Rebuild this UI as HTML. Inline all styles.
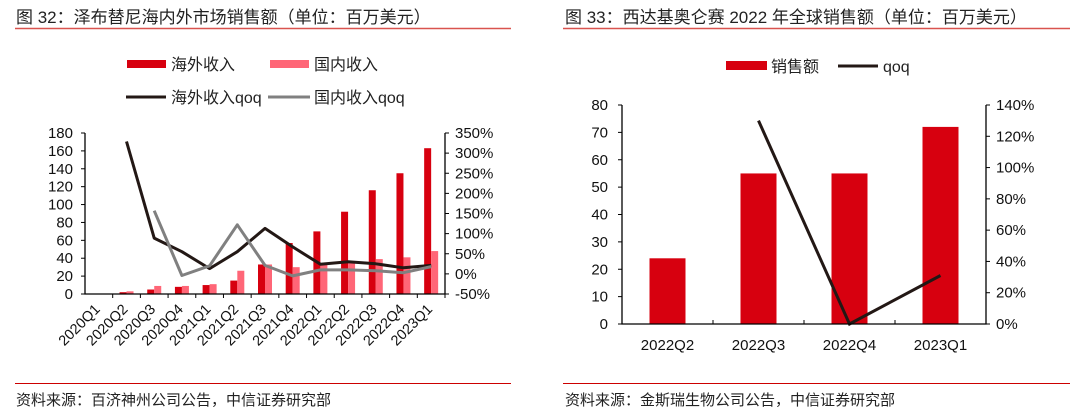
<!DOCTYPE html>
<html><head><meta charset="utf-8">
<style>
body{margin:0;background:#fff;width:1080px;height:418px;overflow:hidden}
svg{display:block;font-family:"Liberation Sans","Noto Sans CJK SC",sans-serif}
</style></head><body>
<svg id="s" width="1080" height="418" xmlns="http://www.w3.org/2000/svg">
<text x="16" y="23" font-size="17" fill="#222">图 32：泽布替尼海内外市场销售额（单位：百万美元）</text>
<line x1="15" y1="28.5" x2="511" y2="28.5" stroke="#d9534f" stroke-width="1.5"/>
<text x="565" y="23" font-size="17" fill="#222">图 33：西达基奥仑赛 2022 年全球销售额（单位：百万美元）</text>
<line x1="563" y1="28.5" x2="1070" y2="28.5" stroke="#d9534f" stroke-width="1.5"/>
<line x1="15" y1="383.5" x2="511" y2="383.5" stroke="#c00" stroke-width="1"/>
<text x="16" y="405" font-size="15" fill="#222">资料来源：百济神州公司公告，中信证券研究部</text>
<line x1="563" y1="383.5" x2="1070" y2="383.5" stroke="#c00" stroke-width="1"/>
<text x="565" y="405" font-size="15" fill="#222">资料来源：金斯瑞生物公司公告，中信证券研究部</text>
<g>
<rect x="127" y="60" width="39" height="8" fill="#d7000f"/>
<text x="171" y="70" font-size="16" fill="#222">海外收入</text>
<rect x="270" y="60" width="39" height="8" fill="#ff6677"/>
<text x="314" y="70" font-size="16" fill="#222">国内收入</text>
<line x1="126" y1="97" x2="166" y2="97" stroke="#231815" stroke-width="3"/>
<text x="171" y="103" font-size="16" fill="#222">海外收入qoq</text>
<line x1="268" y1="97" x2="310" y2="97" stroke="#808080" stroke-width="3"/>
<text x="314" y="103" font-size="16" fill="#222">国内收入qoq</text>
</g>
<g>
<rect x="726" y="61" width="41" height="9" fill="#d7000f"/>
<text x="771" y="72" font-size="16" fill="#222">销售额</text>
<line x1="838" y1="66" x2="878" y2="66" stroke="#231815" stroke-width="3"/>
<text x="883" y="72" font-size="16" fill="#222">qoq</text>
</g>
<g id="L"></g>
<g id="R"></g>
</svg>
<script>
const leftCats=["2020Q1","2020Q2","2020Q3","2020Q4","2021Q1","2021Q2","2021Q3","2021Q4","2022Q1","2022Q2","2022Q3","2022Q4","2023Q1"];
const overseas=[0,2,5,8,10,15,33,57,70,92,116,135,163];
const domestic=[0,3,9,9,11,26,33,30,34,35,39,41,48];
const overseasQoq=[null,329,89,55,13,55,113,67,24,30,25,15,21];
const domesticQoq=[null,null,157,-4,20,122,21,-5,10,10,8,3,18];
const leftTicks=[0,20,40,60,80,100,120,140,160,180];
const leftPctTicks=[-50,0,50,100,150,200,250,300,350];
const rightCats=["2022Q2","2022Q3","2022Q4","2023Q1"];
const sales=[24,55,55,72];
const salesQoq=[null,130,0,31];
const rightTicks=[0,10,20,30,40,50,60,70,80];
const rightPctTicks=[0,20,40,60,80,100,120,140];

const NS="http://www.w3.org/2000/svg";
function mk(p,t,a){const e=document.createElementNS(NS,t);for(const k in a)e.setAttribute(k,a[k]);p.appendChild(e);return e;}

// Left chart
(function(){
const g=document.getElementById('L');
const x0=85,x1=445,yT=133,yB=294;
const bw=(x1-x0)/leftCats.length;
const y=v=>yB-(v/180)*(yB-yT);
const y2=v=>yB-((v+50)/400)*(yB-yT);
const cx=i=>x0+bw*(i+0.5);
leftCats.forEach((c,i)=>{
  if(overseas[i]>0){const r=mk(g,'rect',{x:cx(i)-7,y:y(overseas[i]),width:7,height:yB-y(overseas[i]),fill:'#d7000f'});
  
  }
  if(domestic[i]>0){const r=mk(g,'rect',{x:cx(i),y:y(domestic[i]),width:7,height:yB-y(domestic[i]),fill:'#ff6677'});
  
  }
});
function line(arr,col,name){
  const pts=[];arr.forEach((v,i)=>{if(v!==null)pts.push(cx(i).toFixed(1)+','+y2(v).toFixed(1));});
  const p=mk(g,'polyline',{points:pts.join(' '),fill:'none',stroke:col,'stroke-width':3,'stroke-linejoin':'round'});
  
  
}
line(overseasQoq,'#231815','line-overseas-qoq');
line(domesticQoq,'#808080','line-domestic-qoq');
const ax=mk(g,'path',{d:`M${x0},${yT} V${yB} H${x1} V${yT}`,fill:'none',stroke:'#000','stroke-width':1.3});


leftTicks.forEach(v=>{mk(g,'line',{x1:x0-4,x2:x0,y1:y(v),y2:y(v),stroke:'#000'});
  const t=mk(g,'text',{x:x0-12,y:y(v)+5,'font-size':15,'text-anchor':'end',fill:'#111'});t.textContent=v;
  
  });
leftPctTicks.forEach(v=>{mk(g,'line',{x1:x1,x2:x1+4,y1:y2(v),y2:y2(v),stroke:'#000'});
  const t=mk(g,'text',{x:x1+10,y:y2(v)+5,'font-size':15,fill:'#111'});t.textContent=v+'%';
  
  });
leftCats.forEach((c,i)=>{const xx=x0+bw*(i+1);mk(g,'line',{x1:xx,x2:xx,y1:yB,y2:yB+4,stroke:'#000'});
  const t=mk(g,'text',{x:0,y:0,'font-size':14.5,'text-anchor':'end',fill:'#111',transform:`translate(${cx(i)+2},${yB+16}) rotate(-45)`});t.textContent=c;
  
  });
})();

// Right chart
(function(){
const g=document.getElementById('R');
const x0=622,x1=986,yT=105,yB=324;
const bw=(x1-x0)/rightCats.length;
const y=v=>yB-(v/80)*(yB-yT);
const y2=v=>yB-(v/140)*(yB-yT);
const cx=i=>x0+bw*(i+0.5);
rightCats.forEach((c,i)=>{const r=mk(g,'rect',{x:cx(i)-18,y:y(sales[i]),width:36,height:yB-y(sales[i]),fill:'#d7000f'});
  
  });
const pts=[];salesQoq.forEach((v,i)=>{if(v!==null)pts.push(cx(i).toFixed(1)+','+y2(v).toFixed(1));});
const p=mk(g,'polyline',{points:pts.join(' '),fill:'none',stroke:'#231815','stroke-width':3});


const ax=mk(g,'path',{d:`M${x0},${yT} V${yB} H${x1} V${yT}`,fill:'none',stroke:'#000','stroke-width':1.3});


rightTicks.forEach(v=>{mk(g,'line',{x1:x0-4,x2:x0,y1:y(v),y2:y(v),stroke:'#000'});
  const t=mk(g,'text',{x:x0-14,y:y(v)+5,'font-size':15,'text-anchor':'end',fill:'#111'});t.textContent=v;
  
  });
rightPctTicks.forEach(v=>{mk(g,'line',{x1:x1,x2:x1+4,y1:y2(v),y2:y2(v),stroke:'#000'});
  const t=mk(g,'text',{x:x1+10,y:y2(v)+5,'font-size':15,fill:'#111'});t.textContent=v+'%';
  
  });
rightCats.forEach((c,i)=>{const xx=x0+bw*(i+1);mk(g,'line',{x1:xx,x2:xx,y1:yB,y2:yB-4,stroke:'#000'});
  const t=mk(g,'text',{x:cx(i),y:yB+26,'font-size':15,'text-anchor':'middle',fill:'#111'});t.textContent=c;
  
  });
})();
</script>
</body></html>
